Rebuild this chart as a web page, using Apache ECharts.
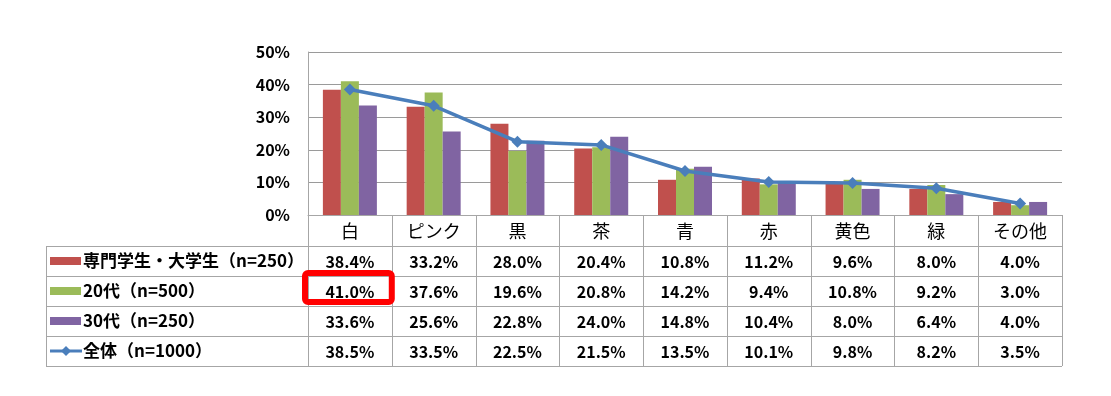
<!DOCTYPE html>
<html><head><meta charset="utf-8">
<script src="https://cdn.jsdelivr.net/npm/echarts@6/dist/echarts.min.js"></script>
<style>html,body{margin:0;padding:0;background:#fff}#c{width:1111px;height:396px}</style>
</head><body><div id="c"></div>
<script>
const categories = ['白','ピンク','黒','茶','青','赤','黄色','緑','その他'];
const seriesNames = ['専門学生・大学生（n=250）','20代（n=500）','30代（n=250）','全体（n=1000）'];
const students = [38.4,33.2,28.0,20.4,10.8,11.2,9.6,8.0,4.0];
const age20s   = [41.0,37.6,19.6,20.8,14.2,9.4,10.8,9.2,3.0];
const age30s   = [33.6,25.6,22.8,24.0,14.8,10.4,8.0,6.4,4.0];
const overall  = [38.5,33.5,22.5,21.5,13.5,10.1,9.8,8.2,3.5];
const yTickLabels = ['0%','10%','20%','30%','40%','50%'];
const highlightCell = {row: 1, col: 0};

const colors = ['#C0504D','#9BBB59','#8064A2','#4A7EBB'];
const FF = '"Noto Sans CJK JP","Noto Sans",sans-serif';
const rows = [students, age20s, age30s, overall];

const chart = echarts.init(document.getElementById('c'), null, {renderer:'canvas'});
chart.setOption({
  animation: false,
  backgroundColor: '#fff',
  grid: {left: 308, right: 49, top: 52, bottom: 181, containLabel: false},
  xAxis: {
    type: 'category', data: categories,
    axisLine: {show: true, lineStyle: {color: '#a6a6a6', width: 1}},
    axisTick: {show: false},
    axisLabel: {color: '#000', fontSize: 18, fontFamily: FF, margin: 7}
  },
  yAxis: {
    type: 'value', min: 0, max: 50, interval: 10,
    axisLine: {show: true, lineStyle: {color: '#a6a6a6'}},
    axisTick: {show: false},
    splitLine: {lineStyle: {color: '#9a9a9a', width: 1}},
    axisLabel: {color: '#000', fontSize: 16, fontWeight: 'bold', fontFamily: FF, margin: 18,
      formatter: (v) => yTickLabels[Math.round(v/10)]}
  },
  series: [
    {name: seriesNames[0], type: 'bar', data: students, barWidth: 18, barGap: '0%', itemStyle: {color: colors[0]}},
    {name: seriesNames[1], type: 'bar', data: age20s, barWidth: 18, barGap: '0%', itemStyle: {color: colors[1]}},
    {name: seriesNames[2], type: 'bar', data: age30s, barWidth: 18, barGap: '0%', itemStyle: {color: colors[2]}},
    {name: seriesNames[3], type: 'line', data: overall, z: 5,
      lineStyle: {color: colors[3], width: 3.5},
      itemStyle: {color: colors[3]},
      symbol: 'diamond', symbolSize: 12, showSymbol: true}
  ]
});

// Build the data table below the chart from the arrays
const x0 = chart.convertToPixel({xAxisIndex: 0}, categories[0]);
const x1 = chart.convertToPixel({xAxisIndex: 0}, categories[1]);
const band = x1 - x0;
const plotLeft = x0 - band / 2;
const plotRight = plotLeft + band * categories.length;
const yBase = chart.convertToPixel({yAxisIndex: 0}, 0);
const headerBottom = yBase + 31;
const rowH = 30;
const tableLeft = 46;
const tableBottom = headerBottom + rowH * rows.length;
const lineColor = '#a6a6a6';

const g = [];
for (let r = 0; r <= rows.length; r++) {
  const y = Math.round(headerBottom + r * rowH) + 0.5;
  g.push({type: 'line', shape: {x1: tableLeft, y1: y, x2: plotRight, y2: y}, style: {stroke: lineColor, lineWidth: 1}, silent: true});
}
g.push({type: 'line', shape: {x1: tableLeft + 0.5, y1: headerBottom, x2: tableLeft + 0.5, y2: tableBottom}, style: {stroke: lineColor, lineWidth: 1}});
for (let i = 0; i <= categories.length; i++) {
  const x = Math.round(plotLeft + i * band) + 0.5;
  g.push({type: 'line', shape: {x1: x, y1: yBase, x2: x, y2: tableBottom}, style: {stroke: lineColor, lineWidth: 1}});
}
rows.forEach((vals, r) => {
  const cy = headerBottom + r * rowH + rowH / 2;
  vals.forEach((v, i) => {
    g.push({type: 'text', style: {text: v.toFixed(1) + '%', x: plotLeft + (i + 0.5) * band, y: cy + 1,
      align: 'center', verticalAlign: 'middle', fill: '#000', font: 'bold 16px ' + FF}});
  });
  g.push({type: 'text', style: {text: seriesNames[r], x: 83, y: cy,
    align: 'left', verticalAlign: 'middle', fill: '#000', font: 'bold 17px ' + FF}});
  if (r < 3) {
    g.push({type: 'rect', shape: {x: 50, y: cy - 4, width: 31, height: 8}, style: {fill: colors[r]}});
  } else {
    g.push({type: 'line', shape: {x1: 50, y1: cy, x2: 82, y2: cy}, style: {stroke: colors[3], lineWidth: 3}});
    g.push({type: 'polygon', shape: {points: [[66, cy - 5], [71, cy], [66, cy + 5], [61, cy]]}, style: {fill: colors[3]}});
  }
});
// highlight box
const hx = plotLeft + highlightCell.col * band;
const hy = headerBottom + highlightCell.row * rowH;
g.push({type: 'rect', z: 100, shape: {x: hx - 3, y: hy - 3, width: band + 3, height: rowH - 1, r: 3},
  style: {fill: 'none', stroke: '#FF0000', lineWidth: 6}});

chart.setOption({graphic: g});
</script>
</body></html>
